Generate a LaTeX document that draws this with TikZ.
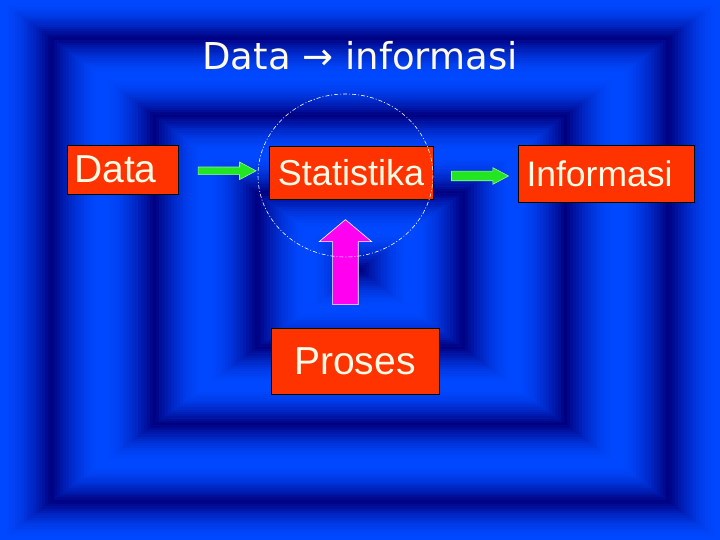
\documentclass[tikz,border=0pt]{standalone}
\usepackage{fontspec}
\setmainfont{Liberation Sans}
\newfontfamily\titlefont{DejaVu Sans}
\usetikzlibrary{positioning, shapes.arrows}
\definecolor{bgbright}{RGB}{0,72,255}
\definecolor{bgdark}{RGB}{0,0,128}
\definecolor{boxred}{HTML}{FF3300}
\definecolor{boxtext}{HTML}{FFFAE6}
\definecolor{arrgreen}{HTML}{22E622}
\definecolor{arrpink}{HTML}{FF00F0}

\begin{document}
\begin{tikzpicture}[x=1pt, y=-1pt,
    box/.style={fill=boxred, draw=black, line width=0.8pt, text=boxtext, inner sep=0pt},
    garrow/.style={single arrow, fill=arrgreen, draw=white!55!arrgreen, line width=0.6pt,
                   single arrow tip angle=56, minimum width=0pt},
    parrow/.style={single arrow, fill=arrpink, draw=white, line width=0.6pt,
                   shape border rotate=90, single arrow tip angle=100, minimum width=0pt},
    ring/.style={draw=white, line width=0.6pt, dash pattern=on 4pt off 2pt on 1pt off 2pt}]
  \useasboundingbox (0,0) rectangle (720,540);
  \foreach \i in {0,...,119} {
    \pgfmathsetmacro{\d}{1-\i/120}
    \pgfmathsetmacro{\t}{100*sqrt(0.5-0.5*cos(1260*(\d-1/240)))}
    \fill[bgbright!\t!bgdark] ({360-360*\d},{270-270*\d}) rectangle ({360+360*\d},{270+270*\d});
  }
  \node[font=\titlefont\fontsize{37}{40}\selectfont, text=boxtext] (title) at (360,56) {Data → informasi};
  \node[box, minimum width=111pt, minimum height=49pt, font=\fontsize{39}{40}\selectfont] (data) at (122.5,169.5) {Data\kern14pt};
  \node[box, minimum width=164pt, minimum height=53pt, font=\fontsize{36}{40}\selectfont] (stat) at (351,172.5) {Statistika};
  \node[box, minimum width=176pt, minimum height=57pt, font=\fontsize{35.5}{40}\selectfont] (info) at (606,173.5) {Informasi\kern13pt};
  \node[box, minimum width=168pt, minimum height=66pt, font=\fontsize{39}{40}\selectfont] (proses) at (355,361) {Proses};
  \path (data) -- node[garrow, inner sep=3.5pt, single arrow head extend=5pt,
        minimum height=58pt] (go1) {} (stat);
  \path (stat) -- node[garrow, inner sep=4.5pt, single arrow head extend=3.5pt,
        minimum height=57pt, yshift=-3pt] (go2) {} (info);
  \path (proses) -- node[parrow, inner sep=12.5pt, single arrow head extend=13.5pt,
        minimum height=85pt, xshift=-7.5pt, yshift=-4pt] (up) {} (stat);
  \draw[ring] (345.5,175.5) ellipse [x radius=87.5, y radius=81.5];
\end{tikzpicture}
\end{document}
